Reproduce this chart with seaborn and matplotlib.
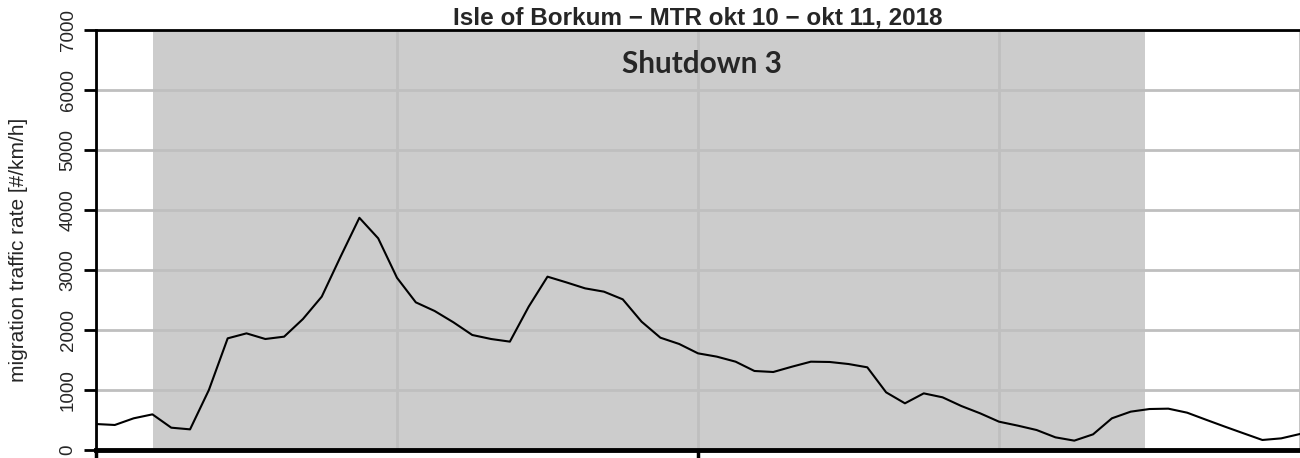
import numpy as np
import pandas as pd
import matplotlib
matplotlib.use("Agg")
import matplotlib.pyplot as plt
import seaborn as sns

# ---- data ----
title = "Isle of Borkum \u2212 MTR okt 10 \u2212 okt 11, 2018"
ylabel = "migration traffic rate [#/km/h]"
annotation = "Shutdown 3"
step_hours = 0.375  # sampling interval (hours since okt 10, 12:00)
mtr = [433, 417, 528, 594, 372, 344, 1000, 1861, 1944, 1850, 1889, 2183, 2556,
       3222, 3870, 3528, 2870, 2461, 2317, 2128, 1917, 1850, 1806, 2389, 2889,
       2794, 2694, 2639, 2511, 2139, 1872, 1767, 1611, 1556, 1472, 1317, 1300,
       1389, 1472, 1467, 1433, 1378, 961, 778, 944, 878, 733, 611, 472, 406,
       333, 211, 156, 261, 528, 639, 683, 689, 622, 505, 390, 278, 167, 194, 267]
shutdown_start = 1.135
shutdown_end = 20.92
y_ticks = [0, 1000, 2000, 3000, 4000, 5000, 6000, 7000]
x_major = [0, 12]
x_minor = [6, 18, 24]

hours = np.arange(len(mtr)) * step_hours
df = pd.DataFrame({"hours": hours, "mtr": mtr})

sns.set_style("white")
plt.rcParams["font.family"] = ["Liberation Sans", "DejaVu Sans"]

fig = plt.figure(figsize=(13, 4.58), dpi=100)
ax = fig.add_axes([96/1300, 8/458, 1 - 96/1300, (450-30)/458])

ax.axvspan(shutdown_start, shutdown_end, color="#cccccc", zorder=1, lw=0)
sns.lineplot(data=df, x="hours", y="mtr", ax=ax, color="black", lw=1.5, zorder=3)

ax.set_xlim(0, 24)
ax.set_ylim(0, 7000)
ax.set_yticks(y_ticks)
ax.set_yticklabels([str(v) for v in y_ticks], rotation=90, va="center", fontsize=13.5)
ax.set_xticks(x_major)
ax.set_xticklabels(["", ""])
ax.set_xticks(x_minor, minor=True)
ax.tick_params(axis="x", which="major", bottom=True, direction="out", length=8, width=2.5, color="black")
ax.tick_params(axis="x", which="minor", bottom=False, length=0)
ax.tick_params(axis="y", left=True, direction="out", length=9, width=2, color="black", pad=5)

ax.grid(True, which="both", color="#bfbfbf", lw=2, zorder=2)
ax.set_axisbelow("line")

for s in ["left", "top"]:
    ax.spines[s].set_color("black")
    ax.spines[s].set_linewidth(2)
ax.spines["bottom"].set_color("black")
ax.spines["bottom"].set_linewidth(3.5)
ax.spines["right"].set_visible(False)

ax.set_xlabel("")
ax.set_ylabel(ylabel, fontsize=15)
ax.yaxis.label.set_va("center")
ax.yaxis.set_label_coords((18 - 96) / 1204, (450 - 250) / 420)
ax.set_title(title, fontsize=17.5, fontweight="bold", pad=2)

ax.text(12.07, 6430, annotation, ha="center", va="center", fontsize=21.4,
        fontweight="bold", family=["Lato", "DejaVu Sans"], zorder=4)

fig.savefig("out.png", dpi=100)
